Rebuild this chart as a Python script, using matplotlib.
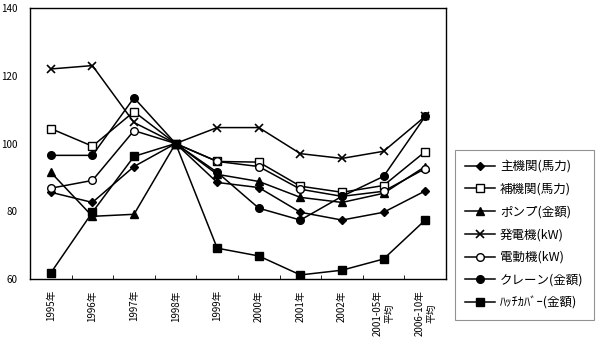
import numpy as np
import matplotlib
matplotlib.use('Agg')
import matplotlib.pyplot as plt

plt.rcParams['font.family'] = ['Noto Sans CJK JP', 'DejaVu Sans']

# categories on the x axis
years = ['1995年', '1996年', '1997年', '1998年', '1999年', '2000年',
         '2001年', '2002年', '2001-05年\n平均', '2006-10年\n平均']

# index values (1998 = 100)
main_engine = [85.6, 82.6, 93.2, 100, 88.5, 87.0, 79.7, 77.4, 79.7, 86.0]
aux_engine = [104.4, 99.2, 109.4, 100, 94.7, 94.5, 87.4, 85.6, 87.6, 97.6]
pump = [91.5, 78.5, 79.1, 100, 90.9, 88.8, 84.1, 82.6, 85.3, 93.2]
generator = [122.0, 123.0, 106.2, 100, 104.7, 104.7, 97.0, 95.6, 97.7, 108.0]
motor = [86.8, 89.1, 103.8, 100, 94.7, 93.2, 86.5, 84.4, 85.9, 92.6]
crane = [96.5, 96.5, 113.5, 100, 91.5, 80.9, 77.4, 84.4, 90.3, 108.0]
hatch = [61.8, 79.7, 96.2, 100, 69.1, 66.8, 61.2, 62.6, 65.9, 77.4]

fig = plt.figure(figsize=(6, 3.38), dpi=100)
ax = fig.add_axes([30 / 600, 1 - 279 / 338, 416 / 600, 271 / 338])

x = np.arange(len(years))
kw = dict(color='black', lw=1.1, markersize=5.5)
ax.plot(x, main_engine, marker='D', markersize=4.5, label='主機関(馬力)',
        color='black', lw=1.1)
ax.plot(x, aux_engine, marker='s', mfc='white', label='補機関(馬力)', **kw)
ax.plot(x, pump, marker='^', label='ポンプ(金額)', **kw)
ax.plot(x, generator, marker='x', mew=1.2, label='発電機(kW)', **kw)
ax.plot(x, motor, marker='o', mfc='white', label='電動機(kW)', **kw)
ax.plot(x, crane, marker='o', label='クレーン(金額)', **kw)
ax.plot(x, hatch, marker='s', label='ﾊｯﾁｶﾊﾞｰ(金額)', **kw)

ax.set_xlim(-0.5, len(years) - 0.5)
ax.set_ylim(60, 140)
ax.set_yticks([60, 80, 100, 120, 140])
ax.tick_params(axis='y', length=0, labelsize=7, pad=9)

ax.set_xticks(x)
ax.set_xticklabels(years, rotation=90, fontsize=7, va='top', ha='center',
                   multialignment='center')
ax.set_xticks(x[:-1] + 0.5, minor=True)
ax.tick_params(axis='x', which='major', length=0, pad=8)
ax.tick_params(axis='x', which='minor', length=3, direction='in')

for s in ax.spines.values():
    s.set_linewidth(1.0)

leg = ax.legend(loc='upper left', bbox_to_anchor=(455 / 600, 1 - 150 / 338),
                bbox_transform=fig.transFigure, fontsize=9, frameon=True,
                fancybox=False, edgecolor='#777777', labelspacing=0.78,
                handlelength=2.4, handletextpad=0.4, borderpad=0.8,
                borderaxespad=0)
leg.get_frame().set_linewidth(0.8)

fig.savefig('out.png', dpi=100)
